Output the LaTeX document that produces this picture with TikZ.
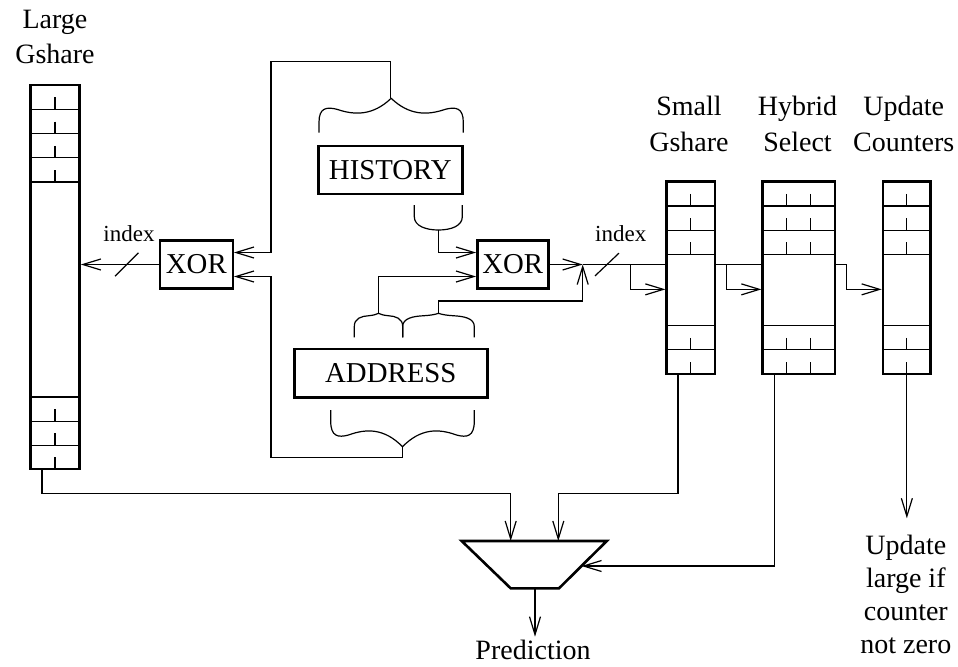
\documentclass[tikz,border=0pt]{standalone}
\usepackage{fontspec}
\setmainfont{Liberation Serif}
\usepackage{tikz}
\usetikzlibrary{arrows.meta,calc}

% wavy brace: left x, right x, y of the ends, y of the tip
\newcommand{\wavybrace}[4]{%
  \pgfmathsetmacro{\brW}{(#2-#1)/2}
  \pgfmathsetmacro{\brM}{(#1+#2)/2}
  \pgfmathsetmacro{\brD}{#4-#3}
  \draw[wire] (#1,#3) -- (#1,{#3+0.3*(\brD)})
    .. controls (#1,{#3+0.72*(\brD)}) and ({#1+0.1*\brW},{#3+0.76*(\brD)}) .. ({#1+0.25*\brW},{#3+0.68*(\brD)})
    .. controls ({#1+0.5*\brW},{#3+0.5*(\brD)}) and ({\brM-0.25*\brW},{#3+0.5*(\brD)}) .. (\brM,#4)
    .. controls ({\brM+0.25*\brW},{#3+0.5*(\brD)}) and ({#2-0.5*\brW},{#3+0.5*(\brD)}) .. ({#2-0.25*\brW},{#3+0.68*(\brD)})
    .. controls ({#2-0.1*\brW},{#3+0.76*(\brD)}) and (#2,{#3+0.72*(\brD)}) .. (#2,{#3+0.3*(\brD)}) -- (#2,#3);
}
% small brace, a hump with a slight point
\newcommand{\humpbrace}[4]{%
  \pgfmathsetmacro{\brW}{(#2-#1)/2}
  \pgfmathsetmacro{\brM}{(#1+#2)/2}
  \pgfmathsetmacro{\brD}{#4-#3}
  \draw[wire] (#1,#3) -- (#1,{#3+0.45*(\brD)})
    .. controls (#1,{#3+0.8*(\brD)}) and ({#1+0.3*\brW},{#3+0.88*(\brD)}) .. ({#1+0.6*\brW},{#3+0.9*(\brD)})
    .. controls ({#1+0.8*\brW},{#3+0.92*(\brD)}) and ({\brM-0.1*\brW},{#3+0.95*(\brD)}) .. (\brM,#4)
    .. controls ({\brM+0.1*\brW},{#3+0.95*(\brD)}) and ({#2-0.8*\brW},{#3+0.92*(\brD)}) .. ({#2-0.6*\brW},{#3+0.9*(\brD)})
    .. controls ({#2-0.3*\brW},{#3+0.88*(\brD)}) and (#2,{#3+0.8*(\brD)}) .. (#2,{#3+0.45*(\brD)}) -- (#2,#3);
}

\begin{document}
\begin{tikzpicture}[x=0.5pt, y=-0.5pt,
  wire/.style={line width=0.6pt},
  arr/.style={wire, -{Straight Barb[length=9pt,width=5.5pt]}},
  boxed/.style={draw, line width=1.2pt, inner sep=0pt, font=\fontsize{14.4}{17}\selectfont},
  tbl/.style={draw, line width=1.3pt, inner sep=0pt},
  lbl/.style={align=center, inner sep=0pt, font=\fontsize{14}{18}\selectfont},
  idx/.style={inner sep=0pt, anchor=base, font=\fontsize{11.5}{13}\selectfont}]
  \useasboundingbox (0,0) rectangle (958,666);

  % Large Gshare table
  \node[tbl, minimum width=24.5pt, minimum height=192pt] (large) at (55,277) {};
  \foreach \r in {1,...,4} {
    \draw[wire] (30.5,{85+24.25*\r}) -- (79.5,{85+24.25*\r});
    \draw[wire] (55,{73+24.25*\r}) -- (55,{85+24.25*\r});
  }
  \foreach \r in {0,1,2} {
    \draw[wire] (30.5,{397+24.1*\r}) -- (79.5,{397+24.1*\r});
    \draw[wire] (55,{409+24.1*\r}) -- (55,{421.1+24.1*\r});
  }
  \node[lbl, font=\fontsize{14}{17.75}\selectfont] (lblLarge) at (55,36.9) {Large\\Gshare};

  % Small Gshare, Hybrid Select, Update Counters
  \node[tbl, minimum width=24.15pt, minimum height=96.15pt] (small) at (690.85,277.85) {};
  \node[tbl, minimum width=36.15pt, minimum height=96.15pt] (hybrid) at (798.85,277.85) {};
  \node[tbl, minimum width=23.85pt, minimum height=96.15pt] (update) at (906.85,277.85) {};
  \foreach \lx/\rx in {666.7/715, 762.7/835, 883/930.7} {
    \foreach \ry in {205.9, 230.1, 254.3, 325.6, 349.8}
      \draw[wire] (\lx,\ry) -- (\rx,\ry);
  }
  \foreach \tx in {690.85, 786.7, 810.7, 906.85} {
    \foreach \ry in {205.9, 230.1, 254.3, 349.8, 374}
      \draw[wire] (\tx,{\ry-12}) -- (\tx,\ry);
  }
  \node[lbl, font=\fontsize{14}{18.35}\selectfont] (lblSmall) at (689,123.8) {Small\\Gshare};
  \node[lbl, font=\fontsize{14}{18.35}\selectfont] (lblHybrid) at (797.5,123.8) {Hybrid\\Select};
  \node[lbl, font=\fontsize{14}{18.35}\selectfont] (lblUpdate) at (903.7,123.8) {Update\\Counters};

  % History and address registers
  \node[boxed, minimum width=72pt, minimum height=24.15pt] (history) at (390.3,169.85) {HISTORY};
  \node[boxed, minimum width=96.5pt, minimum height=24.15pt] (address) at (390.8,373.15) {ADDRESS};
  \wavybrace{319}{463.3}{132.7}{98.3}
  \humpbrace{354.3}{402.7}{337.3}{313.3}
  \humpbrace{402.7}{474.3}{337.3}{313.3}
  \wavybrace{330.7}{474.3}{410}{446.7}
  \draw[wire] (414.3,205) -- (414.3,216.7) .. controls (414.3,226) and (426,230) .. (438.3,230)
    .. controls (451,230) and (462.3,226) .. (462.3,216.7) -- (462.3,205);
  \coordinate (hisTop) at (390.7,98.3);
  \coordinate (hisCup) at (438.3,230);
  \coordinate (adrTopA) at (378.5,313.3);
  \coordinate (adrTopB) at (438.5,313.3);
  \coordinate (adrBot) at (402.5,446.7);

  % XOR gates
  \node[boxed, minimum width=36.35pt, minimum height=24pt] (xorA) at (196.35,264.5) {XOR};
  \node[boxed, minimum width=35.5pt, minimum height=24pt] (xorB) at (512.8,264.5) {XOR};

  % left index
  \draw[arr] (xorA.west) -- (large.east |- xorA.west);
  \coordinate (slashA) at (126.7,264.5);
  \draw[wire] ($(slashA)+(-11.7,11.7)$) -- ($(slashA)+(11.7,-11.7)$);
  \node[idx] (idxA) at (129,241.7) {index};
  \draw[arr] (hisTop) |- (271,61.7) |- ($(xorA.east)+(0,-12)$);
  \draw[arr] (adrBot) |- (271,457.3) |- ($(xorA.east)+(0,12)$);

  % right index
  \draw[arr] (hisCup) |- ($(xorB.west)+(0,-12)$);
  \draw[arr] (adrTopA) |- ($(xorB.west)+(0,12)$);
  \coordinate (join) at (582.7,264.5);
  \draw[arr] (xorB.east) -- (join);
  \draw[arr] (adrTopB) |- (join |- 0,301) -- (join);
  \draw[wire] (join) -- (join -| small.west);
  \coordinate (slashB) at (607,264.5);
  \draw[wire] ($(slashB)+(-12,11.4)$) -- ($(slashB)+(12,-11.4)$);
  \node[idx] (idxB) at (620.7,241.7) {index};
  \coordinate (tapA) at (630.7,264.5);
  \coordinate (tapB) at (726.7,264.5);
  \coordinate (tapC) at (846.7,264.5);
  \draw[arr] (tapA) |- ($(small.west)+(0,11.5)$);
  \draw[wire] (small.east |- join) -- (hybrid.west |- join);
  \draw[arr] (tapB) |- ($(hybrid.west)+(0,11.5)$);
  \draw[arr] (hybrid.east |- join) -- (tapC) |- ($(update.west)+(0,11.5)$);

  % prediction mux
  \coordinate (muxTL) at (461.7,541);
  \coordinate (muxTR) at (606.7,541);
  \coordinate (muxBR) at (559,588.3);
  \coordinate (muxBL) at (510.7,588.3);
  \draw[line width=1.3pt] (muxTL) -- (muxTR) -- (muxBR) -- (muxBL) -- cycle;
  \coordinate (muxInA) at (510.7,541);
  \coordinate (muxInB) at (558.3,541);
  \coordinate (muxInC) at (581.5,566);
  \coordinate (muxOut) at (535,588.3);
  \coordinate (predEnd) at (535,636.7);
  \coordinate (updEnd) at (906.85,518.3);
  \draw[arr] (large.south -| 42,0) |- (muxInA |- 0,493.3) -- (muxInA);
  \draw[arr] (small.south -| 678,0) |- (muxInB |- 0,493.3) -- (muxInB);
  \draw[arr] (hybrid.south -| 774.3,0) |- (muxInC);
  \draw[arr] (muxOut) -- (predEnd);
  \draw[arr] (update.south) -- (updEnd);
  \node[lbl] (lblPred) at (533,650.4) {Prediction};
  \node[lbl, font=\fontsize{14}{16.5}\selectfont] (lblLargeIf) at (905.8,594) {Update\\large if\\counter\\not zero};
\end{tikzpicture}
\end{document}
